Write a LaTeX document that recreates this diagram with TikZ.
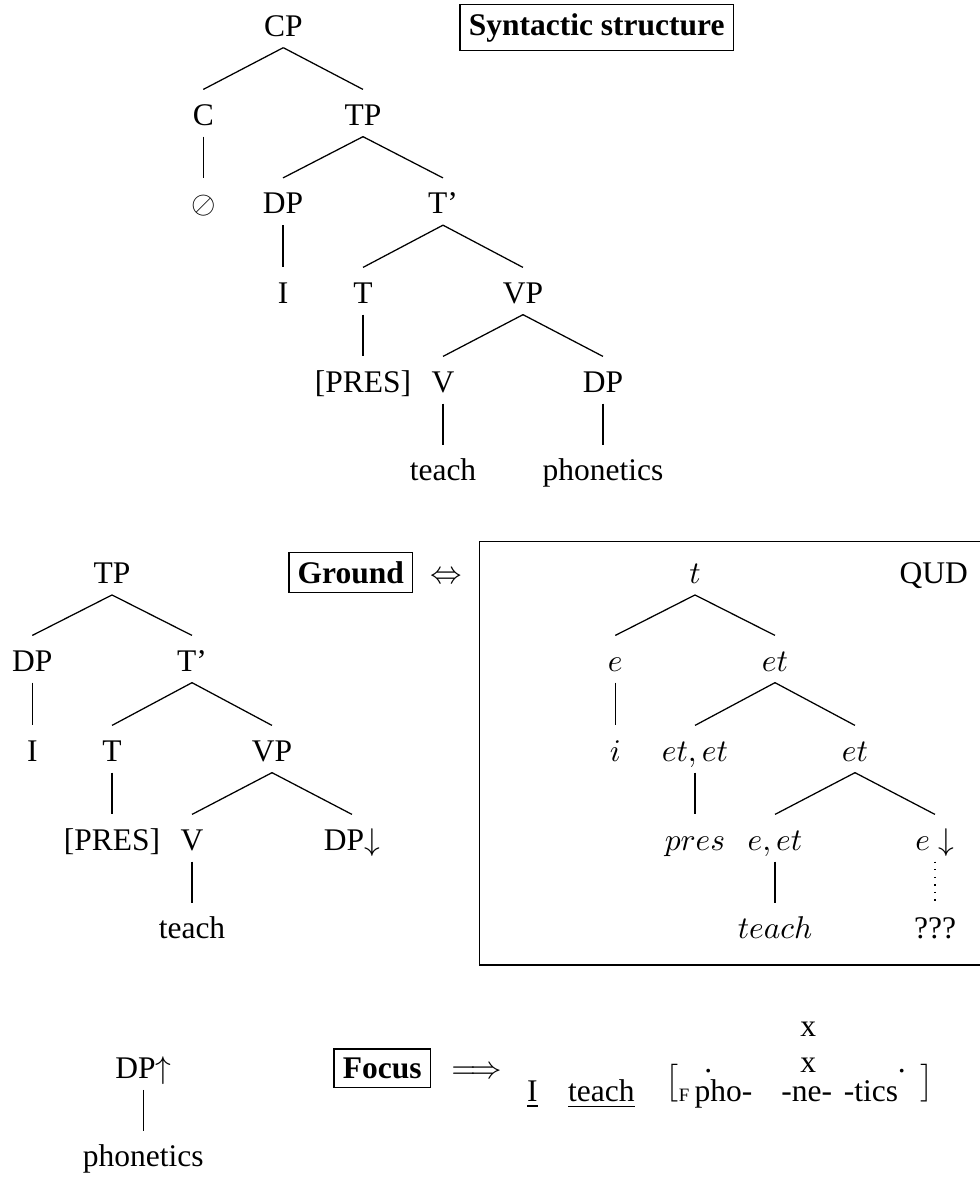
\documentclass[tikz,border=0pt]{standalone}
\usepackage{fontspec}
\setmainfont{Liberation Serif}
% tall bracket for the focus domain
\newcommand{\fbrack}[1]{\raisebox{3.4pt}{$\big#1$}}
\begin{document}
\begin{tikzpicture}[x=0.3175pt,y=-0.3175pt,
  lab/.style={anchor=base,inner sep=0pt,text height=11.1pt,text depth=3.5pt},
  tag/.style={anchor=base,draw,inner sep=2.8pt,font=\bfseries},
  plain/.style={anchor=base,inner sep=0pt},
  branch/.style={line width=0.4pt},
  trace/.style={line width=0.4pt,dotted}]
\useasboundingbox (0,0) rectangle (980,1177);

% ---- Syntactic structure ----
\node[tag] (synt) at (596.7,35) {Syntactic structure};
\node[lab] (cp)    at (283.3,36)   {CP};
\node[lab] (c)     at (203.3,125)  {C};
\node[lab] (tp)    at (363,125)    {TP};
\node[lab] (null)  at (203.3,213.5){$\oslash$};
\node[lab] (dp)    at (283,213.5)  {DP};
\node[lab] (tbar)  at (443,213.5)  {T’};
\node[lab] (pi)    at (283,303)    {I};
\node[lab] (t)     at (363,303)    {T};
\node[lab] (vp)    at (523,303)    {VP};
\node[lab] (pres)  at (363,392)    {[PRES]};
\node[lab] (v)     at (443,392)    {V};
\node[lab] (dpo)   at (603,392)    {DP};
\node[lab] (teach) at (443,480.5)  {teach};
\node[lab] (phon)  at (603,480.5)  {phonetics};
\draw[branch] (cp.south) -- (c.north);
\draw[branch] (cp.south) -- (tp.north);
\draw[branch] (c.south) -- (null.north);
\draw[branch] (tp.south) -- (dp.north);
\draw[branch] (tp.south) -- (tbar.north);
\draw[branch] (dp.south) -- (pi.north);
\draw[branch] (tbar.south) -- (t.north);
\draw[branch] (tbar.south) -- (vp.north);
\draw[branch] (t.south) -- (pres.north);
\draw[branch] (vp.south) -- (v.north);
\draw[branch] (vp.south) -- (dpo.north);
\draw[branch] (v.south) -- (teach.north);
\draw[branch] (dpo.south) -- (phon.north);

% ---- Ground ----
\node[tag] (ground) at (350.8,583.3) {Ground};
\node[plain] (iff) at (446.7,583.3) {$\Leftrightarrow$};
\node[lab] (gtp)    at (112,583.3) {TP};
\node[lab] (gdp)    at (32.3,671)  {DP};
\node[lab] (gtbar)  at (192,671)   {T’};
\node[lab] (gi)     at (32.3,761)  {I};
\node[lab] (gt)     at (112,761)   {T};
\node[lab] (gvp)    at (272,761)   {VP};
\node[lab] (gpres)  at (112,850)   {[PRES]};
\node[lab] (gv)     at (192,850)   {V};
\node[lab] (gdpo)   at (352,850)   {DP$\downarrow$};
\node[lab] (gteach) at (192,938.5) {teach};
\draw[branch] (gtp.south) -- (gdp.north);
\draw[branch] (gtp.south) -- (gtbar.north);
\draw[branch] (gdp.south) -- (gi.north);
\draw[branch] (gtbar.south) -- (gt.north);
\draw[branch] (gtbar.south) -- (gvp.north);
\draw[branch] (gt.south) -- (gpres.north);
\draw[branch] (gvp.south) -- (gv.north);
\draw[branch] (gvp.south) -- (gdpo.north);
\draw[branch] (gv.south) -- (gteach.north);

% ---- QUD (semantic types) ----
\draw[branch] (990,541.7) -| (479.7,965) -- (990,965);
\node[plain] (qud) at (933.8,583.3) {QUD};
\node[lab] (st)     at (695,583.3) {$t$};
\node[lab] (se)     at (615.3,671) {$e$};
\node[lab] (set)    at (775,671)   {$et$};
\node[lab] (si)     at (615.3,761) {$i$};
\node[lab] (setet)  at (695,761)   {$et,et$};
\node[lab] (set2)   at (855,761)   {$et$};
\node[lab] (spres)  at (695,850)   {$pres$};
\node[lab] (seet)   at (775,850)   {$e,et$};
\node[lab] (sed)    at (935,850)   {$e\downarrow$};
\node[lab] (steach) at (775,938.5) {$teach$};
\node[lab] (sq)     at (935,938.5) {???};
\draw[branch] (st.south) -- (se.north);
\draw[branch] (st.south) -- (set.north);
\draw[branch] (se.south) -- (si.north);
\draw[branch] (set.south) -- (setet.north);
\draw[branch] (set.south) -- (set2.north);
\draw[branch] (setet.south) -- (spres.north);
\draw[branch] (set2.south) -- (seet.north);
\draw[branch] (set2.south) -- (sed.north);
\draw[branch] (seet.south) -- (steach.north);
\draw[trace] (sed.south) -- (sq.north);

% ---- Focus ----
\node[lab] (fdp)   at (143.3,1078.3) {DP$\uparrow$};
\node[lab] (fphon) at (143.3,1166.7) {phonetics};
\draw[branch] (fdp.south) -- (fphon.north);
\node[tag] (focus) at (382.3,1078.3) {Focus};
\node[plain] (impl) at (476.7,1078.3) {$\Longrightarrow$};

% metrical grid over the sentence
\node[plain] (x1) at (808.3,1036.7) {x};
\node[plain] (d1) at (708.3,1072)   {.};
\node[plain] (x2) at (808.3,1072)   {x};
\node[plain] (d2) at (901.7,1072)   {.};
\node[plain] (w1) at (532.3,1101.7) {\underline{I}};
\node[plain] (w2) at (601.3,1101.7) {\underline{teach}};
\node[plain,anchor=base west] (w3) at (665,1101.7)
  {\fbrack[{\fontsize{6}{6}\selectfont F}\,pho-};
\node[plain] (w4) at (806.7,1101.7) {-ne-};
\node[plain,anchor=base west] (w5) at (843.3,1101.7) {-tics};
\node[plain] (w6) at (927.5,1101.7) {\fbrack]};
\end{tikzpicture}
\end{document}
